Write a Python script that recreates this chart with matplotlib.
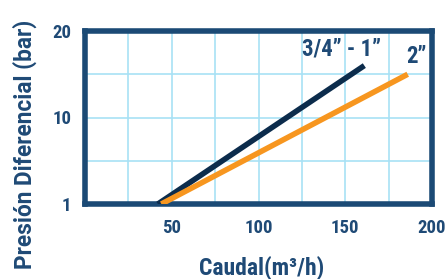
import numpy as np
import matplotlib.pyplot as plt

# flow (m3/h) vs differential pressure (bar)
caudal_34_1 = [42, 161]
presion_34_1 = [1, 16]
caudal_2 = [44, 186]
presion_2 = [1, 15]

x_ticks = [50, 100, 150, 200]
y_ticks = [1, 10, 20]
y_grid = [5.5, 10, 15]

# the chart uses an uneven pressure axis: 1, 10, 20 equally spaced
scale_vals = [1, 10, 20]
scale_pos = [0, 2, 4]


def fwd(v):
    return np.interp(v, scale_vals, scale_pos, left=-1e9, right=1e9)


def inv(p):
    return np.interp(p, scale_pos, scale_vals)


navy = '#1b4a75'
text_col = '#1f4a76'
font = ['Roboto Condensed', 'DejaVu Sans']
font_wide = ['Roboto', 'DejaVu Sans']

fig = plt.figure(figsize=(4.45, 2.79), dpi=100)
ax = fig.add_axes([85 / 445, 1 - 204 / 279, 347 / 445, 173 / 279])
ax.set_yscale('function', functions=(fwd, inv))
ax.set_xlim(0, 200)
ax.set_ylim(1, 20)

for gx in [25, 50, 75, 100, 125, 150, 175]:
    ax.axvline(gx, color='#a8e1f5', lw=1.2, zorder=1)
for gy in y_grid:
    ax.axhline(gy, color='#a8e1f5', lw=1.2, zorder=1)

ax.plot(caudal_34_1, presion_34_1, color='#0c2c4c', lw=4, solid_capstyle='butt', zorder=3)
ax.plot(caudal_2, presion_2, color='#f7961f', lw=4, solid_capstyle='butt', zorder=3)

ax.text(148, 17.9, '3/4” - 1”', color=text_col, fontsize=16.5, fontweight='bold',
        family=font, ha='center', va='center')
ax.text(191, 17.0, '2”', color=text_col, fontsize=16.5, fontweight='bold',
        family=font, ha='center', va='center')

for s in ax.spines.values():
    s.set_color(navy)
    s.set_linewidth(4)

ax.set_xticks(x_ticks)
ax.set_yticks(y_ticks)
ax.set_xticklabels([str(t) for t in x_ticks])
ax.set_yticklabels([str(t) for t in y_ticks])
ax.tick_params(length=0, labelsize=13.5, labelcolor=text_col)
ax.tick_params(axis='x', pad=11)
ax.tick_params(axis='y', pad=10)
for lab in ax.get_xticklabels() + ax.get_yticklabels():
    lab.set_fontweight('bold')
    lab.set_family(font)
ax.minorticks_off()

fig.text(262 / 445, 1 - 268 / 279, 'Caudal(m³/h)', color=text_col,
         fontsize=17, fontweight='bold', family=font, ha='center', va='center')
fig.text(25 / 445, 1 - 144 / 279, 'Presión Diferencial (bar)', color=text_col, fontsize=16.3,
         fontweight='bold', family=font_wide, ha='center', va='center', rotation=90)

fig.savefig('out.png', dpi=100)
